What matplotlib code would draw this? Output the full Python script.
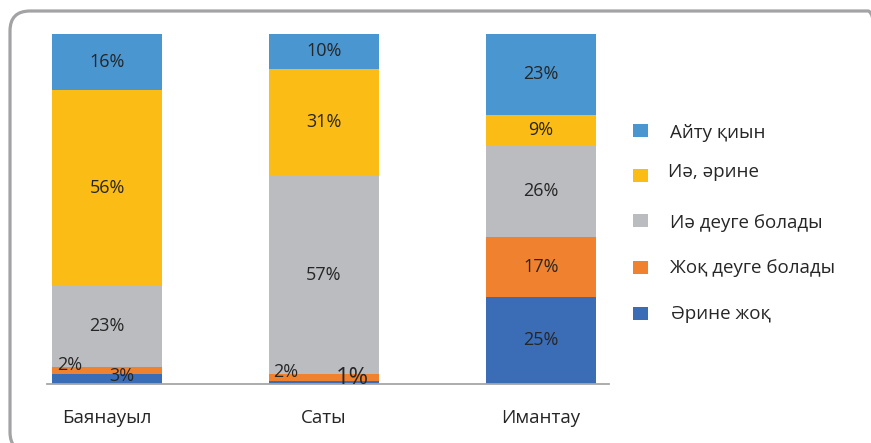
import numpy as np
import matplotlib
matplotlib.use("Agg")
import matplotlib.pyplot as plt
from matplotlib.patches import FancyBboxPatch, Rectangle

plt.rcParams['font.family'] = ['Open Sans', 'DejaVu Sans']

# data (bottom -> top in each column)
categories = ['Баянауыл', 'Саты', 'Имантау']
series_names = ['Әрине жоқ', 'Жоқ деуге болады', 'Иә деуге болады', 'Иә, әрине', 'Айту қиын']
arine_zhok = [3, 1, 25]
zhok_deuge = [2, 2, 17]
ia_deuge = [23, 57, 26]
ia_arine = [56, 31, 9]
aitu_kiyn = [16, 10, 23]
colors = ['#3A6DB6', '#F0822F', '#BBBCC0', '#FBBC16', '#4A96D0']

values = np.array([arine_zhok, zhok_deuge, ia_deuge, ia_arine, aitu_kiyn], dtype=float)
totals = values.sum(axis=0)
shares = values / totals * 100   # 100% stacked

W, H = 871, 443
fig = plt.figure(figsize=(W / 100, H / 100), dpi=100)

def fx(x):
    return x / W

def fy(y):
    return 1 - y / H

# rounded frame (pixel coords)
frame = FancyBboxPatch((10, H - 452), 878, 441, boxstyle="round,pad=0,rounding_size=20",
                       transform=None, fill=False, edgecolor='#A3A3A5', linewidth=2.3)
fig.patches.append(frame)

# axes placed in pixels: left 47, right 609, top 34, bottom 384
ax = fig.add_axes([fx(47), fy(384), (609 - 47) / W, (384 - 34) / H])
x = np.arange(len(categories))
ax.set_xlim(-0.2765, 2.313)
ax.set_ylim(0, 100)
bw = 0.507

bottom = np.zeros(len(categories))
for i in range(len(series_names)):
    ax.bar(x, shares[i], bw, bottom=bottom, color=colors[i], linewidth=0, zorder=2)
    bottom += shares[i]

for s in ['top', 'right', 'left']:
    ax.spines[s].set_visible(False)
ax.spines['bottom'].set_color('#A6A6A6')
ax.spines['bottom'].set_linewidth(1.3)
ax.set_yticks([])
ax.set_xticks(x)
ax.set_xticklabels(categories, fontsize=13.5, color='#262626')
ax.tick_params(axis='x', length=0, pad=18)

# data labels
txt = '#262626'
fs = 13
cum = np.cumsum(shares, axis=0) - shares
for i in range(len(series_names)):
    for j in range(len(categories)):
        v = int(values[i, j])
        yc = cum[i, j] + shares[i, j] / 2
        if i == 0 and j == 0:
            ax.text(x[j] + 0.07, 2.3, f'{v}%', ha='center', va='center', fontsize=fs, color=txt, zorder=3)
        elif i == 1 and j == 0:
            ax.text(x[j] - 0.23, 5.4, f'{v}%', ha='left', va='center', fontsize=fs, color=txt, zorder=3)
        elif i == 1 and j == 1:
            ax.text(x[j] - 0.235, 3.4, f'{v}%', ha='left', va='center', fontsize=fs, color=txt, zorder=3)
        elif i == 0 and j == 1:
            ax.text(x[j] + 0.13, 1.6, f'{v}%', ha='center', va='center', fontsize=17, color=txt, zorder=3)
        else:
            ax.text(x[j], yc, f'{v}%', ha='center', va='center', fontsize=fs, color=txt, zorder=3)

# legend, top to bottom
leg_y = [131, 175, 220, 267, 313]
text_y = [133, 172, 223, 268, 314]
text_x = [670, 668, 670, 670, 671]
for k, idx in enumerate(range(len(series_names) - 1, -1, -1)):
    fig.patches.append(Rectangle((fx(633), fy(leg_y[k] + 6.5)), 15 / W, 13 / H,
                                 transform=fig.transFigure, facecolor=colors[idx], edgecolor='none'))
    fig.text(fx(text_x[k]), fy(text_y[k]), series_names[idx], ha='left', va='center',
             fontsize=13.5, color=txt)

fig.savefig('out.png', dpi=100)
